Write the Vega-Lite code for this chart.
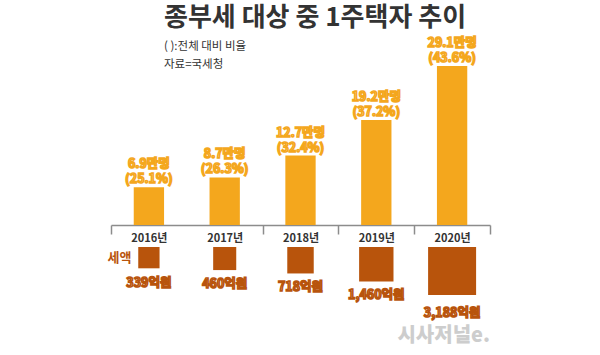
{
  "$schema": "https://vega.github.io/schema/vega-lite/v6.json",
  "padding": {"left": 107, "top": 5, "right": 5, "bottom": 5},
  "background": "white",
  "config": {"font": "Noto Sans CJK KR", "view": {"stroke": null}},
  "title": {
    "text": "종부세 대상 중 1주택자 추이",
    "subtitle": ["( ):전체 대비 비율", "자료=국세청"],
    "anchor": "start",
    "frame": "group",
    "dx": 53,
    "fontSize": 26,
    "fontWeight": "bold",
    "color": "#333333",
    "subtitleFontSize": 11.5,
    "subtitleColor": "#333333",
    "subtitleLineHeight": 18,
    "subtitlePadding": 10,
    "offset": -34
  },
  "data": {
    "values": [
      {"연도": "2016년", "인원": 6.9, "비율": 25.1, "세액": 339, "라벨": "6.9만명\n(25.1%)", "세액표시": "339억원"},
      {"연도": "2017년", "인원": 8.7, "비율": 26.3, "세액": 460, "라벨": "8.7만명\n(26.3%)", "세액표시": "460억원"},
      {"연도": "2018년", "인원": 12.7, "비율": 32.4, "세액": 718, "라벨": "12.7만명\n(32.4%)", "세액표시": "718억원"},
      {"연도": "2019년", "인원": 19.2, "비율": 37.2, "세액": 1460, "라벨": "19.2만명\n(37.2%)", "세액표시": "1,460억원"},
      {"연도": "2020년", "인원": 29.1, "비율": 43.6, "세액": 3188, "라벨": "29.1만명\n(43.6%)", "세액표시": "3,188억원"}
    ]
  },
  "spacing": 4,
  "vconcat": [
    {
      "width": 379,
      "height": 164,
      "encoding": {
        "x": {
          "field": "연도", "type": "nominal", "sort": null,
          "scale": {"paddingInner": 0, "paddingOuter": 0},
          "axis": {
            "title": null, "labelAngle": 0,
            "domainColor": "#8c8c8c", "domainWidth": 1.5,
            "tickBand": "extent", "tickExtra": false,
            "tickColor": "#8c8c8c", "tickWidth": 1.5, "tickSize": 9,
            "tickOpacity": {"condition": {"test": "datum.value === '2016년'", "value": 0}, "value": 1},
            "labelFontSize": 11, "labelFontWeight": "bold", "labelColor": "#333333",
            "labelPadding": -2
          }
        },
        "y": {"field": "인원", "type": "quantitative", "scale": {"domain": [0, 30], "nice": false}, "axis": null}
      },
      "layer": [
        {"mark": {"type": "bar", "color": "#F4A71D", "width": {"band": 0.4}}},
        {"mark": {"type": "text", "baseline": "bottom", "dy": -16, "lineBreak": "\n", "lineHeight": 15, "fontSize": 12.5, "fontWeight": "bold", "fill": "#FFF1D6", "stroke": "#F4A71D", "strokeWidth": 1.5},
         "encoding": {"text": {"field": "라벨"}}}
      ]
    },
    {
      "width": 379,
      "height": 70,
      "title": {"text": "시사저널e.", "orient": "bottom", "anchor": "end", "frame": "group", "fontSize": 20, "fontWeight": 900, "color": "#cdcdcd", "offset": 6},
      "encoding": {
        "x": {"field": "연도", "type": "nominal", "sort": null, "scale": {"paddingInner": 0, "paddingOuter": 0}, "axis": null}
      },
      "layer": [
        {
          "mark": {"type": "point", "shape": "M-1,0H1V2H-1Z", "filled": true, "opacity": 1, "color": "#B8540C"},
          "encoding": {
            "y": {"datum": "세액", "type": "nominal",
                  "scale": {"type": "point", "align": 0, "padding": 0},
                  "axis": {"title": null, "domain": false, "ticks": false, "labelColor": "#B8540C", "labelFontSize": 13, "labelFontWeight": "bold", "labelAlign": "center", "labelPadding": -8, "labelOffset": 10}},
            "size": {"field": "세액", "type": "quantitative", "scale": {"type": "linear", "zero": false, "domain": [339, 3188], "range": [454, 2304]}, "legend": null}
          }
        },
        {
          "mark": {"type": "text", "baseline": "middle", "fontSize": 12.5, "fontWeight": "bold", "fill": "#FCE3CF", "stroke": "#B8540C", "strokeWidth": 1.5},
          "encoding": {
            "y": {"field": "세액", "type": "quantitative", "scale": {"domain": [339, 3188], "range": [36, 66], "zero": false, "nice": false}, "axis": null},
            "text": {"field": "세액표시"}
          }
        }
      ],
      "resolve": {"scale": {"y": "independent"}, "axis": {"y": "independent"}}
    }
  ]
}
